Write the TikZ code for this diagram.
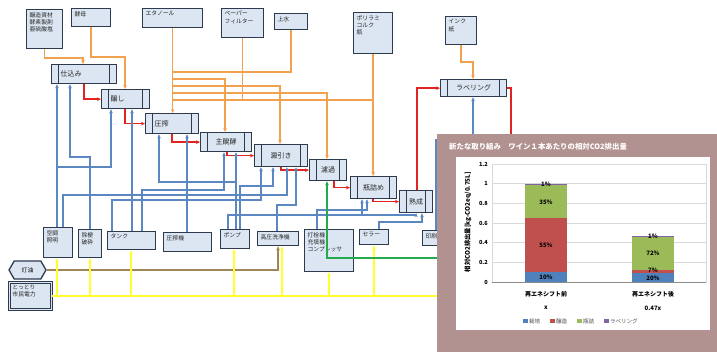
\documentclass[tikz,border=0pt]{standalone}
\usepackage{fontspec}
\setmainfont{Noto Sans CJK JP}
\usetikzlibrary{arrows.meta,shapes.symbols}

\definecolor{boxfill}{HTML}{DCE6F2}
\definecolor{boxline}{HTML}{2E3B4E}
\definecolor{orangeln}{HTML}{F2A24E}
\definecolor{blueln}{HTML}{5B87C2}
\definecolor{redln}{HTML}{E0241F}
\definecolor{yellowln}{HTML}{FFFF30}
\definecolor{greenln}{HTML}{22AA4C}
\definecolor{brownln}{HTML}{A0875A}
\definecolor{panel}{RGB}{178,146,144}
\definecolor{cultiv}{HTML}{4F81BD}
\definecolor{brew}{HTML}{C0504D}
\definecolor{bottle}{HTML}{9BBB59}
\definecolor{labelc}{HTML}{8064A2}
\definecolor{gridc}{HTML}{D9D9D9}

% process step: box with an inner bar near each end
\newcommand\procnode[7]{%
  \pgfmathsetmacro\bw{#4-#2}%
  \pgfmathsetmacro\bh{#5-#3}%
  \pgfmathsetmacro\tw{#4-#2-18}%
  \node[proc, minimum width=\bw pt, minimum height=\bh pt, text width=\tw pt, align=#6] (#1) at (#2,#3) {#7};}

% input / utility box with text set from the top left
\newcommand\matnode[7][]{%
  \pgfmathsetmacro\bw{#5-#3-6}%
  \pgfmathsetmacro\bh{#6-#4-5}%
  \node[box, inner xsep=3pt, inner ysep=2.5pt, #1] (#2) at (#3,#4) {\parbox[c][\bh pt][t]{\bw pt}{\raggedright #7}};}

\tikzset{
  box/.style={draw=boxline, fill=boxfill, line width=1.3pt, rectangle, anchor=north west,
    font=\fontsize{5.8}{7.4}\selectfont, text=black!85},
  proc/.style={box, inner xsep=9pt, inner ysep=0pt, font=\fontsize{7}{8}\selectfont,
    path picture={\draw[boxline, line width=1.1pt]
      ([xshift=7pt]path picture bounding box.north west) -- ([xshift=7pt]path picture bounding box.south west)
      ([xshift=-7pt]path picture bounding box.north east) -- ([xshift=-7pt]path picture bounding box.south east);}},
  ora/.style={draw=orangeln, line width=1.5pt},
  blu/.style={draw=blueln, line width=1.3pt},
  rdl/.style={draw=redln, line width=1.5pt},
  yel/.style={draw=yellowln, line width=2pt},
  grn/.style={draw=greenln, line width=1.5pt},
  brn/.style={draw=brownln, line width=1.2pt},
  tip/.style={-{Stealth[length=4pt,width=3.6pt]}},
  pct/.style={font=\bfseries\fontsize{6}{7}\selectfont, inner sep=0pt},
  tick/.style={font=\bfseries\fontsize{5.6}{7}\selectfont, inner sep=0pt, anchor=east},
  cat/.style={font=\bfseries\fontsize{6}{7}\selectfont, inner sep=0pt},
  leg/.style={font=\fontsize{5.5}{6.5}\selectfont, inner sep=0pt, anchor=west, text=black!70},
}

\begin{document}
\begin{tikzpicture}[x=1pt, y=-1pt]
\useasboundingbox (0,0) rectangle (717,352);
\fill[white] (0,0) rectangle (717,352);

% ---------- inputs ----------
\matnode{shizai}{26}{9}{62}{48}{醸造資材\\酵素製剤\\亜硫酸塩}
\matnode{kobo}{71}{8}{110}{26}{酵母}
\matnode{ethanol}{142}{8}{202}{27}{エタノール}
\matnode{filter}{221}{8}{263}{37}{ペーパー\\フィルター}
\matnode{josui}{274}{13}{307}{29}{上水}
\matnode{bin}{353}{12}{392}{53}{ポリラミ\\コルク\\瓶}
\matnode{ink}{445}{16}{476}{44}{インク\\紙}

% ---------- process steps ----------
\procnode{shikomi}{51}{64}{116}{83}{left}{仕込み}
\procnode{kamoshi}{101}{89}{149}{108}{left}{醸し}
\procnode{assaku}{145}{113}{198}{133}{left}{圧搾}
\procnode{hakko}{200}{132}{251}{151}{center}{主醗酵}
\procnode{orihiki}{254}{144}{307}{166}{center}{澱引き}
\procnode{roka}{309}{159}{346}{180}{center}{濾過}
\procnode{binzume}{350}{176}{396}{198}{center}{瓶詰め}
\procnode{jukusei}{399}{190}{432}{212}{center}{熟成}
\procnode{labeling}{440}{79}{506}{96}{center}{ラベリング}

% ---------- equipment / energy ----------
\matnode{kucho}{43}{227}{72}{257}{空調\\照明}
\matnode{jokou}{78}{229}{101}{257}{除梗\\破砕}
\matnode{tank}{107}{231}{155}{249}{タンク}
\matnode{asshukuki}{163}{232}{211}{251}{圧搾機}
\matnode{pump}{220}{229}{249}{248}{ポンプ}
\matnode{koatsu}{257}{231}{298}{245}{高圧洗浄機}
\matnode{dasen}{304}{229}{353}{271}{打栓機\\充填機\\コンプレッサ}
\matnode{cellar}{359}{229}{388}{244}{セラー}
\matnode{insatsu}{422}{230}{470}{245}{印刷機}
\node[signal, signal to=east and west, signal pointer angle=120, draw=boxline, fill=boxfill,
  line width=1.3pt, minimum width=37pt, minimum height=18pt, inner sep=1pt,
  font=\fontsize{5.8}{7}\selectfont] (toyu) at (27.5,270) {灯油};
\matnode[double=boxfill, double distance=1.2pt, line width=1pt]{denryoku}{9}{282}{51}{309}{とっとり\\市民電力}

% ---------- material supply (orange) ----------
\draw[ora,tip] (shizai.south) |- (83,58) -- (83,0 |- shikomi.north);
\draw[ora,tip] (kobo.south) |- (125,57) -- (125,0 |- kamoshi.north);
\draw[ora,tip] (ethanol.south) -- (ethanol.south |- assaku.north);
\draw[ora] (josui.south) |- (ethanol.south |- 0,72);
\draw[ora,tip] (ethanol.south |- 0,79) -| (225,0 |- hakko.north);
\draw[ora,tip] (ethanol.south |- 0,86) -| (280,0 |- orihiki.north);
\draw[ora,tip] (ethanol.south |- 0,93) -| (327,0 |- roka.north);
\draw[ora] (ethanol.south |- 0,100) -- (bin.south |- 0,100);
\draw[ora] (filter.south) -- (filter.south |- 0,100);
\draw[ora,tip] (bin.south) -- (bin.south |- binzume.north);
\draw[ora,tip] (ink.south) |- (473,62) -- (473,0 |- labeling.north);

% ---------- process flow (red) ----------
\draw[rdl,tip] (84,0 |- shikomi.south) |- (kamoshi.west);
\draw[rdl,tip] (125,0 |- kamoshi.south) |- (assaku.west);
\draw[rdl,tip] (172,0 |- assaku.south) |- (hakko.west);
\draw[rdl,tip] (227,0 |- hakko.south) |- (orihiki.west);
\draw[rdl,tip] (281,0 |- orihiki.south) |- (roka.west);
\draw[rdl,tip] (334,0 |- roka.south) |- (binzume.west);
\draw[rdl,tip] (373,0 |- binzume.south) |- (jukusei.west);
\draw[rdl,tip] (417,0 |- jukusei.north) |- (labeling.west);
\coordinate (redout) at (511,140);
\draw[rdl] (labeling.east) -| (redout);

% ---------- equipment to steps (blue) ----------
\draw[blu,tip] (57,0 |- kucho.north) -- (57,0 |- shikomi.south);
\draw[blu,tip] (57,167) -| (111,0 |- kamoshi.south);
\draw[blu,tip] (90,0 |- jokou.north) |- (70,157) -- (70,0 |- shikomi.south);
\draw[blu,tip] (132,0 |- tank.north) -- (132,0 |- kamoshi.south);
\draw[blu,tip] (187,0 |- asshukuki.north) -- (187,0 |- assaku.south);
\draw[blu,tip] (236,0 |- pump.north) -- (236,0 |- hakko.south);
\draw[blu,tip] (236,182) -| (159,0 |- assaku.south);
\draw[blu,tip] (142,0 |- tank.north) |- (224,190) -- (224,0 |- hakko.south);
\draw[blu,tip] (63,0 |- kucho.north) |- (287,195) -- (287,0 |- orihiki.south);
\draw[blu,tip] (112,0 |- tank.north) |- (261,200) -- (261,0 |- orihiki.south);
\draw[blu,tip] (240,0 |- pump.north) |- (273,186) -- (273,0 |- orihiki.south);
\draw[blu,tip] (277,0 |- koatsu.north) |- (296,205) -- (296,0 |- orihiki.south);
\draw[blu,tip] (317,0 |- dasen.north) |- (367,210) -- (367,0 |- binzume.south);
\draw[blu,tip] (228,0 |- pump.north) |- (416,215) -- (416,0 |- jukusei.south);
\draw[blu,tip] (362,215) -- (362,0 |- binzume.south);
\draw[blu,tip] (379,0 |- cellar.north) |- (422,222) -- (422,0 |- jukusei.south);
\draw[blu,tip] (436,0 |- insatsu.north) |- (473,140) -- (473,0 |- labeling.south);

% ---------- kerosene (brown) ----------
\draw[brn,tip] (toyu.east) -| (278,0 |- koatsu.south);

% ---------- electricity (yellow) ----------
\coordinate (powerout) at (440,296);
\draw[yel] (denryoku.east |- powerout) -- (powerout);
\draw[yel,tip] (57,296) -- (57,0 |- kucho.south);
\draw[yel,tip] (90,296) -- (90,0 |- jokou.south);
\draw[yel,tip] (131,296) -- (131,0 |- tank.south);
\draw[yel,tip] (234,296) -- (234,0 |- pump.south);
\draw[yel,tip] (282,296) -- (282,0 |- koatsu.south);
\draw[yel,tip] (329,296) -- (329,0 |- dasen.south);
\draw[yel,tip] (374,296) -- (374,0 |- cellar.south);

% ---------- green line to filtration ----------
\coordinate (greenout) at (440,258);
\draw[grn,tip] (greenout) -| (327,0 |- roka.south);

% ---------- CO2 chart panel ----------
\fill[panel] (437,134) rectangle (717,352);
\fill[white] (456,157) rectangle (710,330);
\node[font=\bfseries\fontsize{7.4}{8}\selectfont, text=white, anchor=west, inner sep=0pt] (ctitle) at (449,147)
  {新たな取り組み　ワイン１本あたりの相対CO2排出量};

\begin{scope}[shift={(0,282)}, y=98.3pt]
  \foreach \v in {0.2,0.4,0.6,0.8,1.0}
    \draw[gridc, line width=0.5pt] (492,\v) -- (706,\v);
  \draw[gridc, line width=0.7pt] (492,0) rectangle (706,1.2);
  % bar before the shift
  \fill[cultiv] (525,0) rectangle (567,0.10);
  \fill[brew]   (525,0.10) rectangle (567,0.65);
  \fill[bottle] (525,0.65) rectangle (567,0.99);
  \fill[labelc] (525,0.99) rectangle (567,1.0);
  % bar after the shift
  \fill[cultiv] (632,0) rectangle (674,0.094);
  \fill[brew]   (632,0.094) rectangle (674,0.127);
  \fill[bottle] (632,0.127) rectangle (674,0.465);
  \fill[labelc] (632,0.465) rectangle (674,0.47);
  \draw[black!45, line width=0.6pt] (492,0) -- (706,0);
  \foreach \v/\t [count=\i] in {0/0,0.2/0.2,0.4/0.4,0.6/0.6,0.8/0.8,1/1,1.2/1.2}
    \node[tick] (tk\i) at (488,\v) {\t};
  \node[pct] (b1a) at (546,0.045) {10\%};
  \node[pct] (b1b) at (546,0.37) {55\%};
  \node[pct] (b1c) at (546,0.81) {35\%};
  \node[pct] (b1d) at (546,0.995) {1\%};
  \node[pct] (b2a) at (653,0.04) {20\%};
  \node[pct] (b2b) at (653,0.118) {7\%};
  \node[pct] (b2c) at (653,0.295) {72\%};
  \node[pct] (b2d) at (653,0.47) {1\%};
\end{scope}

\node[font=\bfseries\fontsize{6.3}{7}\selectfont, rotate=90, inner sep=0pt] (ytitle) at (468,222)
  {相対CO2排出量[kg-CO2eq/0.75L]};
\node[cat] (c1) at (546,294) {再エネシフト前};
\node[cat] (c2) at (653,294) {再エネシフト後};
\node[cat] (c1v) at (546,308) {x};
\node[cat] (c2v) at (653,308) {0.47x};

% legend
\fill[cultiv] (523,319) rectangle (527.5,323.5);
\node[leg] (lg1) at (529,321.3) {栽培};
\fill[brew] (550,319) rectangle (554.5,323.5);
\node[leg] (lg2) at (556,321.3) {醸造};
\fill[bottle] (577,319) rectangle (581.5,323.5);
\node[leg] (lg3) at (583,321.3) {瓶詰};
\fill[labelc] (604,319) rectangle (608.5,323.5);
\node[leg] (lg4) at (610,321.3) {ラベリング};
\end{tikzpicture}
\end{document}
